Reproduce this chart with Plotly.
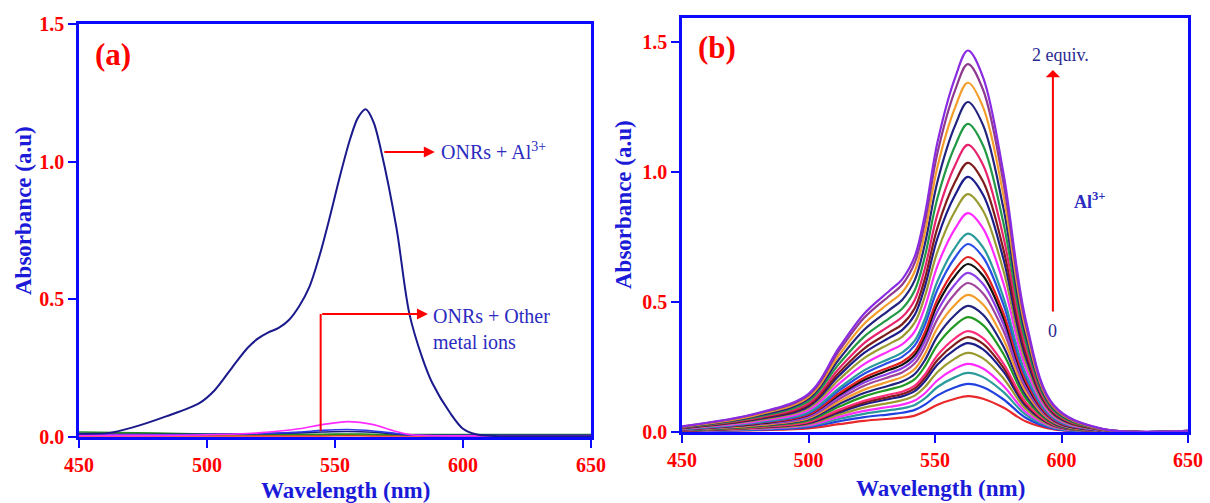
import plotly.graph_objects as go

# ---------------- Panel (a) data ----------------
wl_a_main = [450, 462, 471, 484, 497, 503, 510, 516, 520, 524, 528, 532, 536, 540, 544, 548,
             552, 556, 559, 562, 565, 568, 574, 579, 584, 588, 595, 600, 605, 612, 630, 650]
abs_al = [0.012, 0.015, 0.035, 0.075, 0.123, 0.17, 0.255, 0.325, 0.358, 0.38, 0.396, 0.425,
          0.475, 0.545, 0.66, 0.80, 0.95, 1.085, 1.16, 1.19, 1.145, 1.04, 0.76, 0.45, 0.29,
          0.196, 0.087, 0.03, 0.01, 0.004, 0.003, 0.003]

wl_a_small = [450, 480, 500, 520, 536, 545, 555, 565, 572, 580, 600, 650]
abs_magenta = [0.006, 0.006, 0.008, 0.015, 0.03, 0.045, 0.056, 0.045, 0.025, 0.008, 0.004, 0.004]
abs_blue = [0.008, 0.008, 0.009, 0.012, 0.018, 0.024, 0.027, 0.022, 0.015, 0.007, 0.005, 0.005]
abs_navy2 = [0.01, 0.01, 0.01, 0.012, 0.015, 0.018, 0.02, 0.017, 0.012, 0.007, 0.006, 0.006]
abs_green = [0.018, 0.014, 0.011, 0.01, 0.01, 0.01, 0.011, 0.01, 0.009, 0.009, 0.009, 0.009]
abs_olive = [0.012, 0.01, 0.008, 0.008, 0.008, 0.008, 0.009, 0.008, 0.008, 0.007, 0.007, 0.007]
abs_red = [0.004, 0.004, 0.004, 0.004, 0.004, 0.004, 0.005, 0.004, 0.004, 0.004, 0.004, 0.004]

small_series = [
    ("red", abs_red, "#ff1a1a"),
    ("olive", abs_olive, "#8f8f2a"),
    ("green", abs_green, "#1f8f1f"),
    ("navy2", abs_navy2, "#1a1a80"),
    ("blue", abs_blue, "#2a3ae8"),
    ("magenta", abs_magenta, "#ff2bff"),
]

# ---------------- Panel (b) data ----------------
wl_b = [450, 480, 500, 512, 522, 532, 537, 542, 546, 551, 558, 563, 569, 577, 586, 597, 615, 650]

titration = [
    [0.002, 0.007, 0.014, 0.030, 0.043, 0.051, 0.055, 0.063, 0.079, 0.105, 0.128, 0.138, 0.128, 0.094, 0.040, 0.010, 0.001, 0.000],
    [0.003, 0.009, 0.019, 0.041, 0.057, 0.068, 0.074, 0.085, 0.105, 0.141, 0.172, 0.185, 0.172, 0.126, 0.054, 0.013, 0.002, 0.001],
    [0.003, 0.011, 0.023, 0.050, 0.070, 0.084, 0.091, 0.104, 0.129, 0.173, 0.211, 0.227, 0.211, 0.154, 0.066, 0.016, 0.002, 0.001],
    [0.004, 0.013, 0.026, 0.058, 0.081, 0.097, 0.105, 0.121, 0.149, 0.199, 0.244, 0.262, 0.244, 0.178, 0.076, 0.018, 0.003, 0.001],
    [0.005, 0.015, 0.030, 0.067, 0.094, 0.112, 0.122, 0.140, 0.173, 0.231, 0.283, 0.304, 0.283, 0.207, 0.088, 0.021, 0.003, 0.001],
    [0.005, 0.017, 0.034, 0.075, 0.106, 0.127, 0.137, 0.157, 0.195, 0.260, 0.318, 0.342, 0.318, 0.233, 0.099, 0.024, 0.003, 0.001],
    [0.005, 0.018, 0.037, 0.080, 0.113, 0.135, 0.146, 0.168, 0.208, 0.277, 0.339, 0.365, 0.339, 0.248, 0.106, 0.026, 0.004, 0.001],
    [0.006, 0.019, 0.039, 0.085, 0.120, 0.144, 0.155, 0.178, 0.221, 0.295, 0.361, 0.388, 0.361, 0.264, 0.113, 0.027, 0.004, 0.001],
    [0.007, 0.022, 0.044, 0.097, 0.137, 0.164, 0.177, 0.203, 0.252, 0.336, 0.411, 0.442, 0.411, 0.301, 0.128, 0.031, 0.004, 0.001],
    [0.007, 0.024, 0.049, 0.107, 0.150, 0.179, 0.194, 0.223, 0.276, 0.369, 0.451, 0.485, 0.451, 0.330, 0.141, 0.034, 0.005, 0.001],
    [0.008, 0.026, 0.053, 0.116, 0.163, 0.195, 0.211, 0.242, 0.300, 0.401, 0.490, 0.527, 0.490, 0.358, 0.153, 0.037, 0.005, 0.002],
    [0.009, 0.029, 0.057, 0.126, 0.178, 0.212, 0.229, 0.264, 0.327, 0.435, 0.533, 0.573, 0.533, 0.390, 0.166, 0.040, 0.006, 0.002],
    [0.009, 0.031, 0.061, 0.135, 0.190, 0.226, 0.245, 0.282, 0.349, 0.465, 0.569, 0.612, 0.569, 0.416, 0.177, 0.043, 0.006, 0.002],
    [0.010, 0.032, 0.065, 0.142, 0.200, 0.239, 0.258, 0.297, 0.368, 0.491, 0.601, 0.646, 0.601, 0.439, 0.187, 0.045, 0.006, 0.002],
    [0.010, 0.034, 0.067, 0.148, 0.209, 0.249, 0.269, 0.310, 0.384, 0.511, 0.626, 0.673, 0.626, 0.458, 0.195, 0.047, 0.007, 0.002],
    [0.011, 0.036, 0.072, 0.159, 0.224, 0.268, 0.289, 0.333, 0.412, 0.549, 0.672, 0.723, 0.672, 0.492, 0.210, 0.051, 0.007, 0.002],
    [0.011, 0.038, 0.076, 0.168, 0.237, 0.282, 0.305, 0.351, 0.435, 0.580, 0.710, 0.763, 0.710, 0.519, 0.221, 0.053, 0.008, 0.002],
    [0.013, 0.042, 0.084, 0.185, 0.261, 0.312, 0.337, 0.387, 0.480, 0.640, 0.783, 0.842, 0.783, 0.573, 0.244, 0.059, 0.008, 0.003],
    [0.014, 0.046, 0.092, 0.201, 0.284, 0.339, 0.366, 0.421, 0.522, 0.695, 0.851, 0.915, 0.851, 0.622, 0.265, 0.064, 0.009, 0.003],
    [0.015, 0.049, 0.098, 0.216, 0.304, 0.363, 0.392, 0.451, 0.559, 0.746, 0.912, 0.981, 0.912, 0.667, 0.284, 0.069, 0.010, 0.003],
    [0.016, 0.052, 0.104, 0.228, 0.321, 0.383, 0.414, 0.476, 0.590, 0.787, 0.963, 1.035, 0.963, 0.704, 0.300, 0.072, 0.010, 0.003],
    [0.017, 0.055, 0.110, 0.243, 0.342, 0.408, 0.442, 0.508, 0.629, 0.839, 1.027, 1.104, 1.027, 0.751, 0.320, 0.077, 0.011, 0.003],
    [0.018, 0.059, 0.119, 0.261, 0.367, 0.438, 0.474, 0.545, 0.675, 0.901, 1.102, 1.185, 1.102, 0.806, 0.344, 0.083, 0.012, 0.004],
    [0.019, 0.063, 0.127, 0.279, 0.393, 0.470, 0.508, 0.584, 0.723, 0.964, 1.180, 1.269, 1.180, 0.863, 0.368, 0.089, 0.013, 0.004],
    [0.020, 0.067, 0.134, 0.295, 0.416, 0.497, 0.537, 0.618, 0.766, 1.021, 1.249, 1.343, 1.249, 0.913, 0.389, 0.094, 0.013, 0.004],
    [0.021, 0.071, 0.142, 0.311, 0.439, 0.524, 0.566, 0.651, 0.807, 1.075, 1.316, 1.415, 1.316, 0.962, 0.410, 0.099, 0.014, 0.004],
    [0.022, 0.073, 0.147, 0.323, 0.455, 0.543, 0.587, 0.675, 0.836, 1.115, 1.364, 1.467, 1.364, 0.998, 0.425, 0.103, 0.015, 0.004],
]

titration_colors = [
    "#e8282b", "#2040e0", "#2b9a9a", "#ff2bff", "#9a9a30", "#1c1c8a", "#7f1d1d",
    "#ff2d7a", "#229922", "#22227f", "#f59d2a", "#a0449b", "#8f3fe8", "#111111",
    "#e02020", "#2a4de8", "#2a9a9a", "#ff2bff", "#9a9a30", "#1c1c8a", "#7f1d1d",
    "#e8236e", "#229944", "#22227f", "#f59d2a", "#8e3a8e", "#8a2be2",
]

x_ticks = [450, 500, 550, 600, 650]
y_ticks = [0.0, 0.5, 1.0, 1.5]
y_ticktext = ["0.0", "0.5", "1.0", "1.5"]

SERIF = "Liberation Serif"
AXIS_BLUE = "#0a0aff"
TITLE_BLUE = "#1a1ad8"
TEXT_BLUE = "#2b2bc0"
RED = "#ff0000"

fig = go.Figure()

# panel (a)
for name, vals, col in small_series:
    fig.add_trace(go.Scatter(x=wl_a_small, y=vals, mode="lines", name=name,
                             line=dict(color=col, width=1.6, shape="spline", smoothing=0.8),
                             xaxis="x", yaxis="y", showlegend=False, hoverinfo="skip"))
fig.add_trace(go.Scatter(x=wl_a_main, y=abs_al, mode="lines", name="ONRs + Al3+",
                         line=dict(color="#1a1a8c", width=2, shape="spline", smoothing=0.9),
                         xaxis="x", yaxis="y", showlegend=False))

# panel (b)
for vals, col in zip(titration, titration_colors):
    fig.add_trace(go.Scatter(x=wl_b, y=vals, mode="lines",
                             line=dict(color=col, width=2.2, shape="spline", smoothing=1.0),
                             xaxis="x2", yaxis="y2", showlegend=False, hoverinfo="skip"))

tickfont = dict(family=SERIF, size=20, color=RED, weight="bold")
common_x = dict(range=[450, 650], tickvals=x_ticks, ticks="outside", ticklen=8, tickwidth=2,
                tickcolor=AXIS_BLUE, showline=True, linecolor=AXIS_BLUE, linewidth=2.5,
                mirror=True, showgrid=False, zeroline=False, tickfont=tickfont, automargin=False)
common_y = dict(tickvals=y_ticks, ticktext=y_ticktext, ticks="outside", ticklen=8, tickwidth=2,
                tickcolor=AXIS_BLUE, showline=True, linecolor=AXIS_BLUE, linewidth=2.5,
                mirror=True, showgrid=False, zeroline=False, tickfont=tickfont, automargin=False)

W, H = 1210, 503
fig.update_layout(
    width=W, height=H, autosize=False,
    margin=dict(l=0, r=0, t=0, b=0, autoexpand=False),
    paper_bgcolor="white", plot_bgcolor="white",
    xaxis=dict(domain=[79 / W, 591 / W], anchor="y", **common_x),
    yaxis=dict(domain=[1 - 437 / H, 1 - 24 / H], range=[0, 1.5], anchor="x", **common_y),
    xaxis2=dict(domain=[682 / W, 1188 / W], anchor="y2", **common_x),
    yaxis2=dict(domain=[1 - 432 / H, 1 - 18 / H], range=[0, 1.592], anchor="x2", **common_y),
)

ann = []
title_font = dict(family=SERIF, size=23, color=TITLE_BLUE, weight="bold")
# axis titles
ann.append(dict(text="Wavelength (nm)", xref="paper", yref="paper", x=345 / W, y=1 - 490 / H,
                showarrow=False, font=title_font, xanchor="center", yanchor="middle"))
ann.append(dict(text="Wavelength (nm)", xref="paper", yref="paper", x=940 / W, y=1 - 488 / H,
                showarrow=False, font=title_font, xanchor="center", yanchor="middle"))
ann.append(dict(text="Absorbance (a.u)", xref="paper", yref="paper", x=23 / W, y=1 - 211 / H,
                showarrow=False, font=title_font, textangle=-90, xanchor="center", yanchor="middle"))
ann.append(dict(text="Absorbance (a.u)", xref="paper", yref="paper", x=623 / W, y=1 - 205 / H,
                showarrow=False, font=title_font, textangle=-90, xanchor="center", yanchor="middle"))
# panel labels
ann.append(dict(text="(a)", xref="x", yref="y", x=463.3, y=1.388, showarrow=False,
                font=dict(family=SERIF, size=31, color=RED, weight="bold")))
ann.append(dict(text="(b)", xref="x2", yref="y2", x=463.8, y=1.477, showarrow=False,
                font=dict(family=SERIF, size=31, color=RED, weight="bold")))
# panel (a) labels and arrows
lab_font = dict(family=SERIF, size=20, color=TEXT_BLUE)
ann.append(dict(text="ONRs + Al<sup>3+</sup>", xref="x", yref="y", x=590.6, y=1.04,
                showarrow=False, font=lab_font, xanchor="left", yanchor="middle"))
ann.append(dict(text="", xref="x", yref="y", x=589, y=1.035, axref="x", ayref="y",
                ax=568.7, ay=1.035, showarrow=True, arrowhead=2, arrowsize=1.1,
                arrowwidth=2, arrowcolor=RED))
ann.append(dict(text="ONRs + Other<br>metal ions", xref="x", yref="y", x=587.5, y=0.394,
                showarrow=False, font=lab_font, xanchor="left", yanchor="middle", align="left"))
ann.append(dict(text="", xref="x", yref="y", x=586.3, y=0.447, axref="x", ayref="y",
                ax=544.4, ay=0.447, showarrow=True, arrowhead=2, arrowsize=1.1,
                arrowwidth=2, arrowcolor=RED))
# panel (b) arrow and labels
ann.append(dict(text="", xref="x2", yref="y2", x=596.6, y=1.392, axref="x2", ayref="y2",
                ax=596.6, ay=0.458, showarrow=True, arrowhead=1, arrowsize=1.2,
                arrowwidth=2, arrowcolor=RED))
ann.append(dict(text="2 equiv.", xref="x2", yref="y2", x=599.5, y=1.45, showarrow=False,
                font=dict(family=SERIF, size=18, color="#2a2a90")))
ann.append(dict(text="0", xref="x2", yref="y2", x=596.6, y=0.39, showarrow=False,
                font=dict(family=SERIF, size=18, color="#2a2a90")))
ann.append(dict(text="Al<sup>3+</sup>", xref="x2", yref="y2", x=604.0, y=0.892, showarrow=False,
                xanchor="left", font=dict(family=SERIF, size=18, color=TEXT_BLUE, weight="bold")))
fig.update_layout(annotations=ann)

fig.add_shape(type="line", xref="x", yref="y", x0=544.4, x1=544.4, y0=0.023, y1=0.447,
              line=dict(color=RED, width=2))

fig.write_html("out.html", config={"displayModeBar": False},
               post_script="document.body.style.margin='0';")
